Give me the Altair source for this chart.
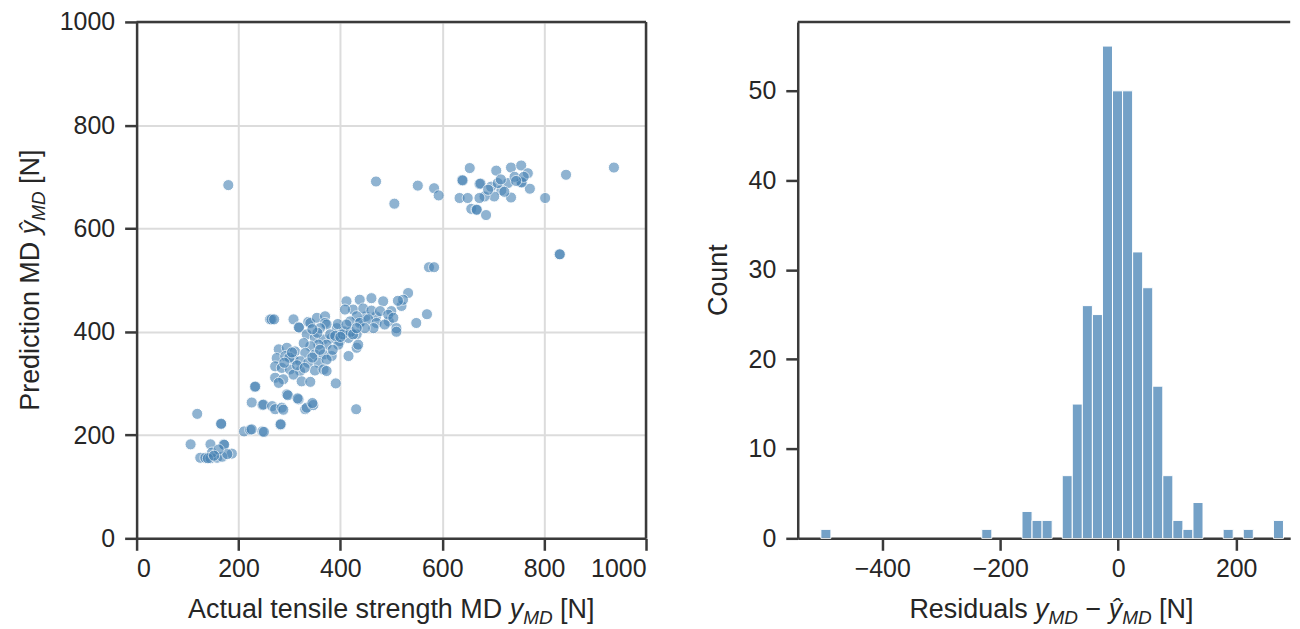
import altair as alt
import pandas as pd

# ---------------- data ----------------
actual = [
    106, 119, 145, 171, 172, 187, 125, 135, 145, 158, 168, 178, 148, 161, 140, 152, 166, 166,
    211, 223, 226, 247, 250, 232, 233, 226, 247, 249, 266, 272, 285, 288, 295, 297, 318, 316,
    331, 334, 347, 345, 282, 283, 431, 391,
    262, 265, 270, 308, 318, 319, 337, 341, 354, 370, 370, 373, 360, 393, 406, 334, 350, 367,
    383, 399, 416, 432, 396, 373, 357, 341, 328, 432, 416, 435, 279, 295, 311, 331, 350, 367,
    383, 275, 292, 308, 321, 337, 357, 373, 272, 285, 301, 321, 350, 367, 373, 272, 288, 308,
    324, 341, 279, 380, 390, 405, 420, 355, 345, 395, 300, 315, 330, 345, 360, 290, 305, 385,
    400, 425, 440, 450, 470, 495, 500, 520,
    533, 523, 513, 484, 461, 438, 412, 425, 445, 461, 478, 494, 504, 432, 419, 438, 455, 471,
    487, 510, 510, 465, 448, 432, 412, 549, 570, 409,
    180, 470, 506, 552, 584, 593, 654, 639, 640, 673, 675, 634, 657, 667, 668, 686, 706, 735,
    755, 768, 772, 755, 756, 735, 729, 716, 702, 683, 673, 650, 696, 742, 709, 722, 802, 843,
    937, 830, 831, 574, 584, 760, 745, 690, 715,
]
predicted = [
    182, 241, 182, 182, 181, 164, 156, 156, 155, 156, 158, 163, 166, 172, 155, 160, 221, 222,
    207, 210, 211, 207, 206, 293, 294, 263, 258, 259, 256, 250, 253, 249, 279, 277, 269, 271,
    250, 253, 258, 262, 220, 221, 250, 300,
    424, 424, 424, 424, 409, 408, 419, 417, 427, 430, 417, 414, 407, 407, 401, 395, 388, 385,
    388, 382, 388, 395, 375, 375, 375, 372, 378, 369, 353, 375, 366, 369, 362, 359, 356, 356,
    353, 349, 353, 346, 343, 340, 340, 346, 333, 330, 327, 324, 325, 327, 324, 311, 308, 317,
    304, 303, 301, 395, 392, 395, 400, 398, 405, 415, 350, 335, 330, 350, 365, 340, 360, 365,
    390, 395, 420, 430, 430, 420, 440, 450,
    475, 462, 460, 459, 465, 462, 459, 443, 445, 441, 440, 433, 427, 430, 420, 417, 424, 417,
    414, 407, 400, 407, 407, 407, 414, 417, 434, 443,
    684, 691, 648, 683, 678, 664, 717, 694, 693, 686, 687, 659, 638, 637, 636, 626, 712, 718,
    722, 707, 677, 690, 689, 660, 688, 674, 662, 662, 659, 659, 681, 700, 688, 671, 659, 704,
    718, 550, 550, 525, 525, 700, 692, 675, 695,
]

# histogram of residuals: counts per bin
hist_counts = [1, 0, 0, 0, 0, 0, 0, 0, 0, 0, 0, 0, 0, 0, 0, 0, 1, 0, 0, 0,
               3, 2, 2, 0, 7, 15, 26, 25, 55, 50, 50, 32, 28, 17, 7, 2, 1, 4, 0, 0,
               1, 0, 1, 0, 0, 2]
bin_start = -504.1
bin_width = 17.05

left_xticks = [0, 200, 400, 600, 800, 1000]
left_yticks = [0, 200, 400, 600, 800, 1000]
right_xticks = [-400, -200, 0, 200]
right_yticks = [0, 10, 20, 30, 40, 50]

# ---------------- style ----------------
FONT = "Liberation Sans"
TFS = 27          # axis title size
LFS = 25          # tick label size
SUBFS = 19
SUBDY = 6
BLUE = "steelblue"
AX = "#3a3a3a"
TXT = "#262626"
W1, W2, H = 511, 494, 518

# Arial / Liberation Sans advance widths (per 1000 em) used for title layout
WIDTHS = {" ": 278, "A": 667, "a": 556, "c": 500, "d": 556, "e": 556, "g": 556, "h": 556,
          "i": 222, "l": 222, "n": 556, "o": 556, "P": 667, "r": 333, "s": 500, "t": 278,
          "u": 556, "M": 833, "D": 722, "N": 722, "[": 278, "]": 278, "R": 722, "C": 722,
          "y": 500, "\u0177": 500, "\u2212": 584}


def seg_size(style):
    return SUBFS if style == "s" else TFS


def tw(s, size):
    return sum(WIDTHS.get(ch, 556) for ch in s) * size / 1000.0


def seg_layer(text, x, y, style, angle=0):
    size = seg_size(style)
    fstyle = "normal" if style == "n" else "italic"
    kw = dict(align="left", baseline="alphabetic", font=FONT, fontSize=size,
              fontStyle=fstyle, color=TXT)
    if angle:
        kw["angle"] = angle
    return alt.Chart(pd.DataFrame({"t": [text]})).mark_text(**kw).encode(
        x=alt.value(x), y=alt.value(y), text="t:N")


def htitle(segs, cx, base):
    total = sum(tw(t, seg_size(s)) for t, s in segs)
    x = cx - total / 2
    layers = []
    for t, s in segs:
        if s != "sp":
            layers.append(seg_layer(t, x, base + (SUBDY if s == "s" else 0), s))
        x += tw(t, seg_size(s))
    return layers


def vtitle(segs, bx, cy):
    total = sum(tw(t, seg_size(s)) for t, s in segs)
    y = cy + total / 2
    layers = []
    for t, s in segs:
        if s != "sp":
            layers.append(seg_layer(t, bx + (SUBDY if s == "s" else 0), y, s, angle=270))
        y -= tw(t, seg_size(s))
    return layers


def axis(values, orient, grid=False, pad=6, expr=None):
    kw = dict(values=values, orient=orient, grid=grid, gridColor="#dcdcdc", gridWidth=2,
              domainColor=AX, domainWidth=2.5, tickColor=AX, tickWidth=2.5, tickSize=12,
              labelFont=FONT, labelFontSize=LFS, labelColor=TXT, labelPadding=pad,
              format="d", title=None)
    if expr:
        kw["labelExpr"] = expr
    return alt.Axis(**kw)


# ---------------- left: scatter ----------------
df_sc = pd.DataFrame({"actual": actual, "predicted": predicted})
scatter = alt.Chart(df_sc).mark_circle(
    size=125, color=BLUE, opacity=0.6, stroke="white", strokeWidth=1
).encode(
    x=alt.X("actual:Q", scale=alt.Scale(domain=[0, 1000], nice=False, zero=False),
            axis=axis(left_xticks, "bottom", grid=True, pad=6)),
    y=alt.Y("predicted:Q", scale=alt.Scale(domain=[0, 1000], nice=False, zero=False),
            axis=axis(left_yticks, "left", grid=True, pad=10)),
)
spine_l_top = alt.Chart(pd.DataFrame({"a": [0]})).mark_rule(color=AX, strokeWidth=2.5).encode(
    x=alt.value(0), x2=alt.value(W1), y=alt.value(0))
spine_l_right = alt.Chart(pd.DataFrame({"a": [0]})).mark_rule(color=AX, strokeWidth=2.5).encode(
    x=alt.value(W1), y=alt.value(0), y2=alt.value(H))

left_titles = htitle([("Actual tensile strength MD", "n"), (" ", "sp"), ("y", "i"),
                      ("MD", "s"), (" ", "sp"), ("[N]", "n")], W1 / 2, 598)
left_titles += vtitle([("Prediction MD", "n"), (" ", "sp"), ("\u0177", "i"), ("MD", "s"),
                       (" ", "sp"), ("[N]", "n")], -97.6, H / 2)

left = alt.layer(scatter, spine_l_top, spine_l_right, *left_titles).properties(
    width=W1, height=H)

# ---------------- right: histogram ----------------
rows = []
for i, c in enumerate(hist_counts):
    if c > 0:
        rows.append({"x0": bin_start + i * bin_width,
                     "x1": bin_start + (i + 1) * bin_width, "count": c})
df_h = pd.DataFrame(rows)
bars = alt.Chart(df_h).mark_rect(
    color=BLUE, fillOpacity=0.75, stroke="white", strokeWidth=1
).encode(
    x=alt.X("x0:Q", scale=alt.Scale(domain=[-543.3, 291.6], nice=False, zero=False),
            axis=axis(right_xticks, "bottom", pad=6,
                      expr="replace(datum.label, '-', '\u2212')")),
    x2="x1:Q",
    y=alt.Y("count:Q", scale=alt.Scale(domain=[0, 57.7], nice=False),
            axis=axis(right_yticks, "left", pad=10)),
    y2=alt.datum(0),
)
spine_r_top = alt.Chart(pd.DataFrame({"a": [0]})).mark_rule(color=AX, strokeWidth=2.5).encode(
    x=alt.value(0), x2=alt.value(W2), y=alt.value(0))

right_titles = htitle([("Residuals", "n"), (" ", "sp"), ("y", "i"), ("MD", "s"),
                       (" ", "sp"), ("\u2212", "n"), (" ", "sp"), ("\u0177", "i"),
                       ("MD", "s"), (" ", "sp"), ("[N]", "n")], 254.5, 598)
right_titles += vtitle([("Count", "n")], -70.5, H / 2)

right = alt.layer(bars, spine_r_top, *right_titles).properties(width=W2, height=H)

chart = alt.hconcat(left, right, spacing=152.2, bounds="flush").properties(
    padding={"left": 9, "top": 1, "right": 0, "bottom": 0}
).configure_view(stroke=None)

chart.save("out.html", embed_options={"renderer": "svg", "actions": False})
